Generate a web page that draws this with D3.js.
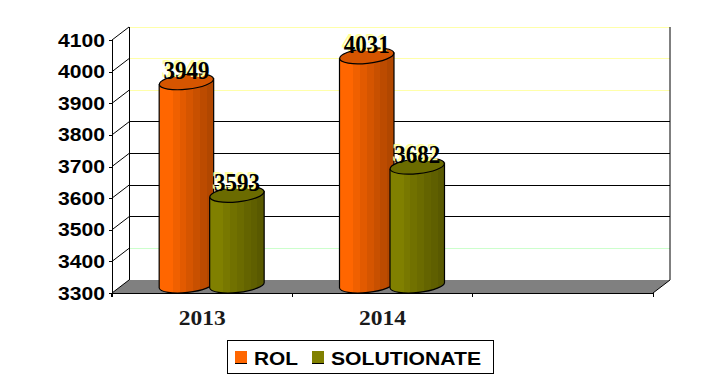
<!DOCTYPE html>
<html>
<head>
<meta charset="utf-8">
<script src="https://cdn.jsdelivr.net/npm/d3@7"></script>
<style>
  html, body { margin: 0; padding: 0; background: #fff; }
  svg { display: block; }
  .sans { font-family: "Liberation Sans", Arial, sans-serif; font-weight: bold; }
  .serif { font-family: "Liberation Serif", "Times New Roman", serif; font-weight: bold; }
</style>
</head>
<body>
<div id="chart"></div>
<script>
// Values
const categories = ["2013", "2014", ""];
const seriesNames = ["ROL", "SOLUTIONATE"];
const rolValues = [3949, 4031];
const solutionateValues = [3593, 3682];
const yTicks = [3300, 3400, 3500, 3600, 3700, 3800, 3900, 4000, 4100];
const gridColors = ["#000", "#ccffcc", "#000", "#000", "#000", "#000", "#ffffaa", "#ffffaa", "#ffffaa"];

const width = 723, height = 389;
const margin = { top: 40, right: 70, bottom: 96, left: 112 };
const depthX = 17, depthY = 13;   // offset of the back wall
const barOffset = 9.5, topLift = 6, bottomLift = 8; // bars stand in the middle of the floor

const svg = d3.select("#chart").append("svg")
  .attr("width", width)
  .attr("height", height);

const x = d3.scaleBand()
  .domain(categories)
  .range([margin.left, width - margin.right]);

const xInner = d3.scaleBand()
  .domain(seriesNames)
  .range([0, 105])
  .padding(0);

const y = d3.scaleLinear()
  .domain([3300, 4100])
  .range([height - margin.bottom, margin.top]);

const colors = d3.scaleOrdinal()
  .domain(seriesNames)
  .range(["#ff6600", "#808000"]);

// Stepped gradients for the cylinders
const defs = svg.append("defs");
seriesNames.forEach((name, i) => {
  const c = d3.color(colors(name));
  const g = defs.append("linearGradient").attr("id", "grad" + i);
  const steps = 8;
  d3.range(steps).forEach(s => {
    const shade = s < 2 ? c : c.darker((s - 1) * 0.17);
    g.append("stop").attr("offset", s / steps).attr("stop-color", shade);
    g.append("stop").attr("offset", (s + 1) / steps).attr("stop-color", shade);
  });
});

const x0 = margin.left, x1 = width - margin.right;
const yBase = y(3300);

// Floor
svg.append("path")
  .attr("d", `M${x0},${yBase} L${x0 + depthX},${yBase - depthY} L${x1 + depthX},${yBase - depthY} L${x1},${yBase} Z`)
  .attr("fill", "#808080");

// Back wall gridlines and the slanted bits on the side wall
const grid = svg.append("g").attr("shape-rendering", "crispEdges");
yTicks.forEach((t, i) => {
  if (i > 0) {
    grid.append("line")
      .attr("x1", x0 + depthX).attr("x2", x1 + depthX)
      .attr("y1", y(t) - depthY).attr("y2", y(t) - depthY)
      .attr("stroke", gridColors[i]);
  }
});
svg.append("g").selectAll("line")
  .data(yTicks)
  .join("line")
  .attr("x1", x0).attr("y1", d => y(d))
  .attr("x2", x0 + depthX).attr("y2", d => y(d) - depthY)
  .attr("stroke", "#000");

// Wall edges
svg.append("path")
  .attr("d", `M${x0 + depthX},${y(4100) - depthY} V${yBase - depthY}`)
  .attr("stroke", "#000").attr("fill", "none").attr("shape-rendering", "crispEdges");
svg.append("path")
  .attr("d", `M${x1 + depthX},${y(4100) - depthY} V${yBase - depthY} L${x1},${yBase}`)
  .attr("stroke", "#000").attr("fill", "none");

// Axes
const yAxis = svg.append("g")
  .attr("transform", `translate(${x0},0)`)
  .call(d3.axisLeft(y).tickValues(yTicks).tickFormat(d3.format("d")).tickSize(3).tickPadding(4));
yAxis.selectAll("path, line").attr("stroke", "#000").attr("shape-rendering", "crispEdges");
yAxis.selectAll("text")
  .attr("class", "sans")
  .style("font-size", "19px")
  .attr("fill", "#000")
  .attr("textLength", 47)
  .attr("lengthAdjust", "spacingAndGlyphs");

const xAxis = svg.append("g")
  .attr("transform", `translate(0,${yBase})`)
  .call(d3.axisBottom(x).tickSize(4).tickPadding(13).tickSizeOuter(4));
xAxis.selectAll("path, line").attr("stroke", "#000").attr("stroke-width", 1.5).attr("shape-rendering", "crispEdges");
xAxis.selectAll(".tick line").attr("transform", d => `translate(${-x.bandwidth() / 2},0)`);
xAxis.selectAll("text")
  .attr("class", "serif")
  .style("font-size", "21px")
  .attr("fill", "#1a1a1a")
  .attr("textLength", d => d ? 47 : null)
  .attr("lengthAdjust", "spacingAndGlyphs");

// Cylinders
const rows = [];
categories.slice(0, rolValues.length).forEach((c, i) => {
  rows.push({ cat: c, name: seriesNames[0], value: rolValues[i], idx: 0 });
  rows.push({ cat: c, name: seriesNames[1], value: solutionateValues[i], idx: 1 });
});

const tilt = 3, ry = 7.5, rotDeg = -6;
const bars = svg.append("g").selectAll("g")
  .data(rows)
  .join("g")
  .attr("transform", d => `translate(${x(d.cat) + x.bandwidth() / 2 - 52.5 + barOffset + xInner(d.name) - d.idx * 2},0)`);

const rx = xInner.bandwidth() / 2 + 1;

bars.append("path")
  .attr("d", d => {
    const w = rx * 2;
    const top = y(d.value) - topLift, bot = yBase - bottomLift;
    return `M0,${top + tilt} V${bot + tilt} A${rx},${ry} ${rotDeg} 0 0 ${w},${bot - tilt} V${top - tilt} Z`;
  })
  .attr("fill", d => `url(#grad${d.idx})`)
  .attr("stroke", "#000")
  .attr("stroke-width", 1.2);

bars.append("ellipse")
  .attr("rx", rx)
  .attr("ry", ry)
  .attr("transform", d => `translate(${rx},${y(d.value) - topLift}) rotate(${rotDeg})`)
  .attr("fill", d => d3.color(colors(d.name)).darker(0.5))
  .attr("stroke", "#000")
  .attr("stroke-width", 1.2);

// Data labels, pale yellow copy behind the black one
[["#ffff99", -2, -2], ["#000", 0, 0]].forEach(([col, dx, dy]) => {
  bars.append("text")
    .attr("class", "serif")
    .attr("x", rx + dx)
    .attr("y", d => y(d.value) - topLift - 3 + dy)
    .attr("text-anchor", "middle")
    .style("font-size", "25px")
    .attr("fill", col)
    .attr("textLength", 46)
    .attr("lengthAdjust", "spacingAndGlyphs")
    .text(d => d.value);
});

// Legend
const legend = svg.append("g");
legend.append("rect")
  .attr("x", 227.5).attr("y", 340.5).attr("width", 266).attr("height", 33)
  .attr("fill", "#fff").attr("stroke", "#000").attr("shape-rendering", "crispEdges");

const legendX = d3.scaleOrdinal().domain(seriesNames).range([235, 312]);
const legendLen = d3.scaleOrdinal().domain(seriesNames).range([44, 150]);
const items = legend.selectAll("g")
  .data(seriesNames)
  .join("g")
  .attr("transform", d => `translate(${legendX(d)},351)`);
items.append("rect")
  .attr("width", 12).attr("height", 12)
  .attr("fill", d => colors(d));
items.append("line")
  .attr("x1", 0).attr("x2", 12).attr("y1", 12.5).attr("y2", 12.5)
  .attr("stroke", "#000").attr("shape-rendering", "crispEdges");
items.append("text")
  .attr("class", "sans")
  .attr("x", 19)
  .attr("y", 14)
  .style("font-size", "19px")
  .attr("fill", "#000")
  .attr("textLength", d => legendLen(d))
  .attr("lengthAdjust", "spacingAndGlyphs")
  .text(d => d);
</script>
</body>
</html>
